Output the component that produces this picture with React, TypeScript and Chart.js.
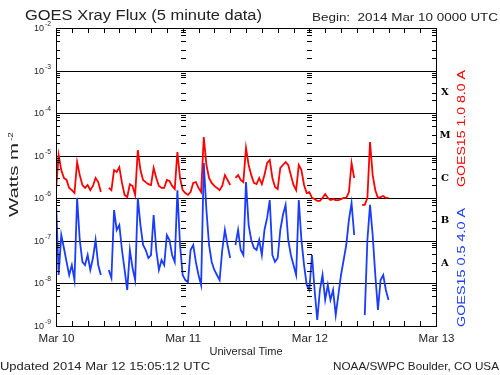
import { useEffect, useRef } from 'react';
import { Chart, registerables } from 'chart.js';

Chart.register(...registerables);

// Sampling step of the flux series (hours since 2014 Mar 10 00:00 UTC)
const STEP_HOURS = 0.5;
const HOURS_MAX = 72;
const DAY_LABELS = ['Mar 10', 'Mar 11', 'Mar 12', 'Mar 13'];
const LEVEL_LABELS = ['A', 'B', 'C', 'M', 'X'];
const DECADES = [-9, -8, -7, -6, -5, -4, -3, -2];
const MINOR_MULT = [2, 3, 5, 7, 8, 9];

// GOES15 1.0-8.0 A (W m^-2)
const LONG_FLUX: (number | null)[] = [
  1.55e-6, 1.04e-5, 4.6e-6, 3.0e-6, 2.7e-6, 1.75e-6, 1.55e-6, 1.33e-6, 7.1e-6, 3.5e-6,
  2.05e-6, 1.75e-6, 2.05e-6, 1.55e-6, 1.95e-6, 3.0e-6, 2.4e-6, 1.4e-6, null, null,
  1.75e-6, 1.55e-6, 4.6e-6, 4.15e-6, 5.4e-6, 2.3e-6, 1.2e-6, 1.07e-6, 2.15e-6, 1.95e-6,
  1.2e-6, 1.36e-5, 4.6e-6, 2.7e-6, 2.4e-6, 2.15e-6, 2.05e-6, 5.15e-6, 3.0e-6, 1.95e-6,
  1.75e-6, 1.75e-6, 2.7e-6, 2.55e-6, 1.95e-6, 1.65e-6, 1.22e-5, 3.0e-6, 1.55e-6, 1.33e-6,
  1.2e-6, 1.4e-6, 2.3e-6, 2.4e-6, 1.75e-6, 1.4e-6, 2.75e-5, 6.05e-6, 3.0e-6, 2.3e-6,
  1.95e-6, 1.75e-6, 1.55e-6, 1.95e-6, 3.5e-6, 2.7e-6, 2.05e-6, null, 3.0e-6, 3.5e-6,
  2.7e-6, 2.4e-6, 1.52e-5, 6.05e-6, 3.5e-6, 2.3e-6, 2.15e-6, 3.0e-6, 2.15e-6, 3.5e-6,
  6.75e-6, 7.9e-6, 3.0e-6, 1.85e-6, 1.65e-6, 5.15e-6, 6.05e-6, 7.1e-6, 6.05e-6, 3.5e-6,
  2.05e-6, 1.55e-6, 6.05e-6, 4.6e-6, 2.05e-6, 1.33e-6, 1.4e-6, 1.02e-6, 9.6e-7, 8.65e-7,
  8.65e-7, 1.02e-6, 1.26e-6, 1.02e-6, 9.1e-7, 9.6e-7, 9.1e-7, 9.1e-7, 9.6e-7, 1.02e-6,
  1.02e-6, 1.4e-6, 6.75e-6, 3.0e-6, null, null, 7.0e-7, 7.0e-7, 1.02e-6, 2.1e-5,
  3.5e-6, 1.55e-6, 1.02e-6, 1.07e-6, 1.13e-6, 1.02e-6, 1.02e-6,
];

// GOES15 0.5-4.0 A (W m^-2)
const SHORT_FLUX: (number | null)[] = [
  9.1e-7, 1.58e-8, 1.37e-7, 6.8e-8, 3.2e-8, 1.58e-8, 2.7e-8, 1.2e-8, 1.02e-6, 1.05e-7,
  3.2e-8, 2.7e-8, 4.65e-8, 2.07e-8, 3.95e-8, 1.05e-7, 2.7e-8, 1.58e-8, null, null,
  2.07e-8, 1.34e-8, 5.3e-7, 1.8e-7, 2.35e-7, 6.1e-8, 2.07e-8, 7.0e-9, 6.1e-8, 2.3e-8,
  1.2e-8, 1.02e-6, 2.35e-7, 8.0e-8, 6.1e-8, 3.95e-8, 4.65e-8, 4.05e-7, 6.1e-8, 2.07e-8,
  3.55e-8, 2.7e-8, 1.37e-7, 1.05e-7, 4.65e-8, 3.2e-8, 1.55e-6, 8.0e-8, 1.58e-8, 1.2e-8,
  1.08e-8, 6.1e-8, 8.0e-8, 3.2e-8, 1.58e-8, 9.2e-9, 6.75e-6, 5.3e-7, 8.0e-8, 3.2e-8,
  2.07e-8, 1.58e-8, 1.2e-8, 6.1e-8, 1.8e-7, 8.0e-8, 3.95e-8, null, 8.0e-8, 1.8e-7,
  6.1e-8, 4.65e-8, 2.4e-6, 2.35e-7, 1.05e-7, 6.8e-8, 6.1e-8, 1.05e-7, 4.65e-8, 1.8e-7,
  3.45e-7, 9.1e-7, 4.65e-8, 3.2e-8, 3.95e-8, 1.8e-7, 4.05e-7, 7.0e-7, 1.05e-7, 4.65e-8,
  2.7e-8, 1.58e-8, 9.1e-7, 1.05e-7, 2.7e-8, 9.2e-9, 7.0e-9, 4.65e-8, 7.0e-9, 1.38e-9,
  7.0e-9, 1.58e-8, 4.1e-9, 9.2e-9, 4.1e-9, 7.0e-9, 1.8e-9, 5.35e-9, 1.58e-8, 3.55e-8,
  8.0e-8, 3.1e-7, 7.75e-7, 1.37e-7, null, null, null, 1.8e-9, 1.05e-7, 7.0e-7,
  1.37e-7, 1.58e-8, 2.4e-9, 1.2e-8, 1.58e-8, 7.0e-9, 4.1e-9,
];

const TITLE = 'GOES Xray Flux (5 minute data)';
const BEGIN_TEXT = 'Begin:  2014 Mar 10 0000 UTC';
const UPDATED_TEXT = 'Updated 2014 Mar 12 15:05:12 UTC';
const CREDIT_TEXT = 'NOAA/SWPC Boulder, CO USA';
const X_TITLE = 'Universal Time';
const LONG_LABEL = 'GOES15 1.0 8.0 A';
const SHORT_LABEL = 'GOES15 0.5 4.0 A';

const RED = '#ff0000';
const BLUE = '#1a3cff';
const FONT = '"Liberation Sans", Arial, sans-serif';
const INK = '#222';

function fitText(
  ctx: CanvasRenderingContext2D,
  text: string,
  x: number,
  y: number,
  width: number,
  size: number,
  color: string,
  align: 'left' | 'center' | 'right' = 'left',
  rot = 0,
  family = FONT,
  weight = 'normal'
) {
  ctx.save();
  ctx.font = `${weight} ${size}px ${family}`;
  const w = ctx.measureText(text).width || 1;
  ctx.translate(x, y);
  if (rot) ctx.rotate(rot);
  ctx.scale(width / w, 1);
  ctx.fillStyle = color;
  ctx.textAlign = 'left';
  ctx.textBaseline = 'alphabetic';
  let ox = 0;
  if (align === 'center') ox = -w / 2;
  else if (align === 'right') ox = -w;
  ctx.fillText(text, ox, 0);
  ctx.restore();
}

const goesPlugin = {
  id: 'goesDecor',
  beforeDraw(chart: any) {
    const ctx = chart.ctx;
    ctx.save();
    ctx.fillStyle = '#ffffff';
    ctx.fillRect(0, 0, chart.width, chart.height);
    ctx.restore();
  },
  beforeDatasetsDraw(chart: any) {
    const ctx = chart.ctx;
    const { left, right } = chart.chartArea;
    const y = chart.scales.y;
    ctx.save();
    ctx.strokeStyle = '#000';
    ctx.lineWidth = 1;
    ctx.beginPath();
    DECADES.slice(1, -1).forEach((d) => {
      const yy = Math.round(y.getPixelForValue(Math.pow(10, d))) + 0.5;
      ctx.moveTo(left, yy);
      ctx.lineTo(right, yy);
    });
    ctx.stroke();
    ctx.restore();
  },
  afterDraw(chart: any) {
    const ctx = chart.ctx;
    const { left, right, top, bottom } = chart.chartArea;
    const x = chart.scales.x;
    const y = chart.scales.y;
    ctx.save();
    ctx.strokeStyle = '#000';
    ctx.lineWidth = 1;
    ctx.strokeRect(left + 0.5, top + 0.5, right - left, bottom - top);
    ctx.beginPath();
    for (let h = 3; h < HOURS_MAX; h += 3) {
      const xx = Math.round(x.getPixelForValue(h)) + 0.5;
      ctx.moveTo(xx, top);
      ctx.lineTo(xx, top + 5);
      ctx.moveTo(xx, bottom);
      ctx.lineTo(xx, bottom - 5);
    }
    DECADES.slice(0, -1).forEach((d) => {
      MINOR_MULT.forEach((m) => {
        const yy = Math.round(y.getPixelForValue(m * Math.pow(10, d))) + 0.5;
        ctx.moveTo(left, yy);
        ctx.lineTo(left + 4, yy);
        ctx.moveTo(right, yy);
        ctx.lineTo(right - 4, yy);
        [24, 48].forEach((h) => {
          const xx = Math.round(x.getPixelForValue(h));
          ctx.moveTo(xx - 2, yy);
          ctx.lineTo(xx + 3, yy);
        });
      });
    });
    ctx.stroke();
    ctx.restore();

    // y tick labels 10^n
    DECADES.forEach((d) => {
      const yy = y.getPixelForValue(Math.pow(10, d));
      fitText(ctx, '10', 44, yy + 3, 10, 9, INK, 'right');
      fitText(ctx, `-${-d}`, 45, yy - 2, 6, 7, INK, 'left');
    });

    // y axis title (rotated)
    fitText(ctx, 'Watts m', 18, 217, 74, 12, INK, 'left', -Math.PI / 2);
    fitText(ctx, '-2', 13, 141, 9, 8, INK, 'left', -Math.PI / 2);

    // x tick labels
    DAY_LABELS.forEach((lab, i) => {
      const xx = x.getPixelForValue(i * 24);
      fitText(ctx, lab, xx + 0.5, bottom + 16, 36, 11, INK, 'center');
    });
    fitText(ctx, X_TITLE, (left + right) / 2, bottom + 29, 73, 11, INK, 'center');

    fitText(ctx, TITLE, 25, 20, 237, 14, INK, 'left');
    fitText(ctx, BEGIN_TEXT, 312, 21, 186, 11, INK, 'left');
    fitText(ctx, UPDATED_TEXT, 0, 370, 210, 11, INK, 'left');
    fitText(ctx, CREDIT_TEXT, 499, 370, 166, 11, INK, 'right');

    ctx.save();
    ctx.font = 'bold 10px "DejaVu Serif", serif';
    ctx.fillStyle = '#000';
    ctx.textAlign = 'center';
    ctx.textBaseline = 'middle';
    LEVEL_LABELS.forEach((lab, i) => {
      const d = -8 + i;
      const yy = y.getPixelForValue(Math.pow(10, d + 0.5));
      ctx.fillText(lab, right + 9, yy + 1);
    });
    ctx.restore();

    fitText(ctx, LONG_LABEL, 465, 187, 117, 11, RED, 'left', -Math.PI / 2);
    fitText(ctx, SHORT_LABEL, 465, 327, 119, 11, BLUE, 'left', -Math.PI / 2);
  },
};

function toPoints(values: (number | null)[]) {
  return values.map((v, i) => ({ x: i * STEP_HOURS, y: v }));
}

export default function App() {
  const ref = useRef<HTMLCanvasElement | null>(null);
  useEffect(() => {
    document.body.style.margin = '0';
    const canvas = ref.current;
    if (!canvas) return;
    const chart = new Chart(canvas, {
      type: 'line',
      data: {
        datasets: [
          {
            label: LONG_LABEL,
            data: toPoints(LONG_FLUX) as any,
            borderColor: RED,
            borderWidth: 1.8,
            pointRadius: 0,
            spanGaps: false,
            tension: 0,
          },
          {
            label: SHORT_LABEL,
            data: toPoints(SHORT_FLUX) as any,
            borderColor: BLUE,
            borderWidth: 1.8,
            pointRadius: 0,
            spanGaps: false,
            tension: 0,
          },
        ],
      },
      options: {
        animation: false,
        responsive: false,
        devicePixelRatio: 1,
        layout: { padding: { left: 56, right: 64, top: 28, bottom: 49 } },
        plugins: { legend: { display: false }, tooltip: { enabled: false }, title: { display: false } },
        scales: {
          x: { type: 'linear', min: 0, max: HOURS_MAX, display: false },
          y: { type: 'logarithmic', min: 1e-9, max: 1e-2, display: false },
        },
      },
      plugins: [goesPlugin],
    });
    return () => chart.destroy();
  }, []);
  return (
    <canvas ref={ref} width={500} height={375} style={{ display: 'block', width: 500, height: 375 }} />
  );
}
